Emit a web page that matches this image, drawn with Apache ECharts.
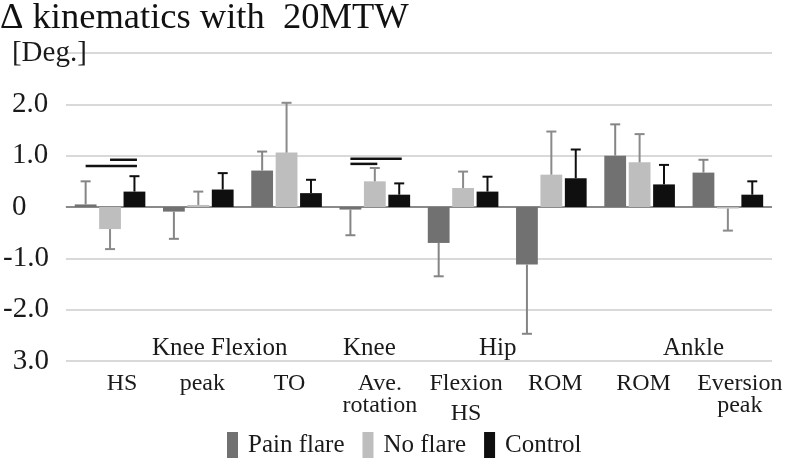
<!DOCTYPE html>
<html>
<head>
<meta charset="utf-8">
<script src="https://cdn.jsdelivr.net/npm/echarts@6/dist/echarts.min.js"></script>
<style>
html,body{margin:0;padding:0;background:#fff;}
#chart{width:787px;height:460px;}
</style>
</head>
<body>
<div id="chart"></div>
<script>
// ---- data ----
const titleText = 'Δ kinematics with  20MTW';
const unitText = '[Deg.]';
const categories = ['HS', 'peak', 'TO', 'Ave.\nrotation', 'Flexion\nHS', 'ROM', 'ROM', 'Eversion\npeak'];
const groupHeaders = ['Knee Flexion', 'Knee', 'Hip', 'Ankle'];
const seriesNames = ['Pain flare', 'No flare', 'Control'];
const painFlare   = [0.05, -0.09, 0.71, -0.05, -0.70, -1.12, 1.00, 0.67];
const painFlareSD = [0.45, 0.53, 0.37, 0.50, 0.65, 1.35, 0.61, 0.25];
const noFlare     = [-0.43, 0.04, 1.06, 0.50, 0.37, 0.63, 0.87, -0.03];
const noFlareSD   = [0.39, 0.26, 0.97, 0.26, 0.32, 0.84, 0.55, 0.43];
const control     = [0.30, 0.34, 0.27, 0.24, 0.30, 0.56, 0.44, 0.24];
const controlSD   = [0.30, 0.32, 0.26, 0.22, 0.29, 0.56, 0.38, 0.26];
// significance bars: [category index, from series, to series, level]
const sigBars = [[0, 0, 2, 0.80], [0, 1, 2, 0.92], [3, 0, 2, 0.94], [3, 0, 1, 0.84]];
const yTickLabels = {'3': '[Deg.]', '2': '2.0', '1': '1.0', '0': '0', '-1': '-1.0', '-2': '-2.0', '-3': '3.0'};

// ---- style ----
const FONT = 'Liberation Serif';
const colors = ['#717171', '#bebebe', '#0f0f0f'];
const errColors = ['#858585', '#8a8a8a', '#0f0f0f'];
const CAT_GAP = 0.20, BAR_GAP = 0.12;
const labelNudge = [12, 4, 3, 5, 3, 4, 4, 12];

function barX(api, idx, pos) {
  const bw = api.size([1, 0])[0];
  const used = bw * (1 - CAT_GAP);
  const w = used / (3 + 2 * BAR_GAP);
  return api.coord([idx, 0])[0] - used / 2 + pos * w * (1 + BAR_GAP) + w / 2;
}

function errRender(pos, color) {
  return function (params, api) {
    const idx = api.value(0), mean = api.value(1), sd = api.value(2);
    const end = mean >= 0 ? mean + sd : mean - sd;
    const x = barX(api, idx, pos);
    const y0 = api.coord([idx, mean])[1];
    const y1 = api.coord([idx, end])[1];
    return {
      type: 'group',
      children: [
        {type: 'line', shape: {x1: x, y1: y0, x2: x, y2: y1}, style: {stroke: color, lineWidth: 2}},
        {type: 'line', shape: {x1: x - 5, y1: y1, x2: x + 5, y2: y1}, style: {stroke: color, lineWidth: 2}}
      ]
    };
  };
}

function sigRender(params, api) {
  const idx = api.value(0), from = api.value(1), to = api.value(2), lvl = api.value(3);
  const x0 = barX(api, idx, from);
  const x1 = barX(api, idx, to) + 2.5;
  const y = api.coord([idx, lvl])[1];
  return {type: 'line', shape: {x1: x0, y1: y, x2: x1, y2: y}, style: {stroke: '#111', lineWidth: 2.5}};
}

const means = [painFlare, noFlare, control];
const sds = [painFlareSD, noFlareSD, controlSD];

const series = [];
seriesNames.forEach((name, k) => {
  const s = {
    name: name,
    type: 'bar',
    data: means[k],
    barCategoryGap: (CAT_GAP * 100) + '%',
    barGap: (BAR_GAP * 100) + '%',
    itemStyle: {color: colors[k]},
    z: 2
  };
  if (k === 0) {
    s.markLine = {
      silent: true, symbol: 'none', label: {show: false},
      lineStyle: {color: '#8a8a8a', width: 2, type: 'solid'},
      data: [{yAxis: 0}], z: 1
    };
  }
  series.push(s);
});
seriesNames.forEach((name, k) => {
  series.push({
    name: name + ' SD',
    type: 'custom',
    renderItem: errRender(k, errColors[k]),
    data: means[k].map((v, i) => [i, v, sds[k][i]]),
    encode: {x: 0, y: 1},
    z: 3
  });
});
series.push({
  name: 'sig',
  type: 'custom',
  renderItem: sigRender,
  data: sigBars,
  encode: {x: 0, y: 3},
  z: 4
});

const rich = {
  t: {fontFamily: FONT, fontSize: 24, color: '#1a1a1a', lineHeight: 22},
  h: {fontFamily: FONT, fontSize: 24, color: '#1a1a1a', lineHeight: 38}
};
labelNudge.forEach(n => { rich['sp' + n] = {width: 2 * n, height: 1, lineHeight: 22}; });

const headerStyle = {fontFamily: FONT, fontSize: 25, fill: '#1a1a1a'};

const chart = echarts.init(document.getElementById('chart'), null, {renderer: 'canvas'});
chart.setOption({
  animation: false,
  backgroundColor: '#fff',
  title: {
    text: titleText, left: 0, top: 0, padding: 0,
    textStyle: {fontFamily: FONT, fontSize: 36.5, fontWeight: 'normal', color: '#111'}
  },
  legend: {
    data: seriesNames,
    left: 227, top: 432, padding: 0,
    icon: 'rect', itemWidth: 11, itemHeight: 26, itemGap: 18,
    textStyle: {fontFamily: FONT, fontSize: 25, color: '#1a1a1a', padding: [0, 0, 0, 5]}
  },
  grid: {left: 62, right: 15, top: 53, bottom: 99, containLabel: false},
  xAxis: {
    type: 'category',
    data: categories,
    axisLine: {show: false},
    axisTick: {show: false},
    axisLabel: {
      margin: 12, interval: 0,
      fontFamily: FONT, fontSize: 24, color: '#1a1a1a', lineHeight: 22,
      formatter: function (v, i) {
        const lines = v.split('\n');
        const sp = '{sp' + labelNudge[i] + '|}';
        if (v === 'Flexion\nHS') return sp + '{t|' + lines[0] + '}\n' + sp + '{h|' + lines[1] + '}';
        return lines.map(l => sp + '{t|' + l + '}').join('\n');
      },
      rich: rich
    }
  },
  yAxis: [{
    type: 'value', min: -3, max: 3, interval: 1,
    axisLine: {show: false}, axisTick: {show: false},
    splitLine: {lineStyle: {color: '#d9d9d9', width: 2}},
    axisLabel: {
      margin: 54, align: 'left', showMinLabel: true, showMaxLabel: true,
      fontFamily: FONT, fontSize: 29, color: '#1a1a1a',
      formatter: v => (v >= 0 ? (v === 3 ? unitText : yTickLabels[String(v)]) : '')
    }
  }, {
    type: 'value', min: -3, max: 3, interval: 1, position: 'left',
    axisLine: {show: false}, axisTick: {show: false}, splitLine: {show: false},
    axisLabel: {
      margin: 17, align: 'right', showMinLabel: true, showMaxLabel: true,
      fontFamily: FONT, fontSize: 29, color: '#1a1a1a',
      formatter: v => (v < 0 ? yTickLabels[String(v)] : '')
    }
  }],
  graphic: [
    {type: 'text', left: 152, top: 336, style: Object.assign({text: groupHeaders[0]}, headerStyle)},
    {type: 'text', left: 343, top: 336, style: Object.assign({text: groupHeaders[1]}, headerStyle)},
    {type: 'text', left: 479, top: 336, style: Object.assign({text: groupHeaders[2]}, headerStyle)},
    {type: 'text', left: 663, top: 336, style: Object.assign({text: groupHeaders[3]}, headerStyle)}
  ],
  series: series
});
</script>
</body>
</html>
